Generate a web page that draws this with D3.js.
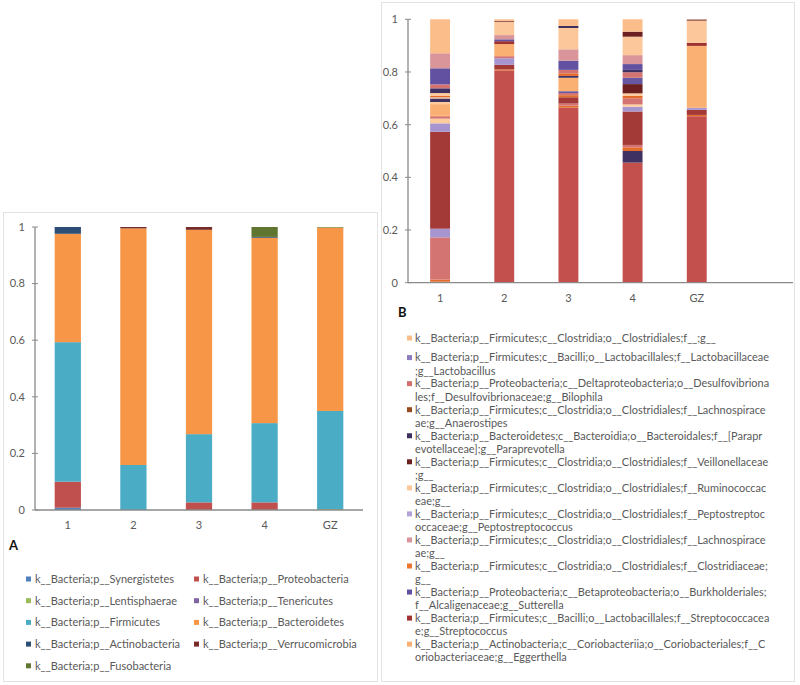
<!DOCTYPE html>
<html><head><meta charset="utf-8">
<script src="https://cdn.jsdelivr.net/npm/d3@7"></script>
<style>
body{margin:0;background:#fff}
text{font-family:Lato,"Liberation Sans",sans-serif}
</style>
</head><body>
<svg id="chart" width="800" height="685"></svg>
<script>
// ---------- shared ----------
const samples = ["1", "2", "3", "4", "GZ"];
const yTickValues = [0, 0.2, 0.4, 0.6, 0.8, 1];

// ---------- Panel A: phylum level (stack order bottom -> top = legend order) ----------
const phylaA = [
  "k__Bacteria;p__Synergistetes", "k__Bacteria;p__Proteobacteria",
  "k__Bacteria;p__Lentisphaerae", "k__Bacteria;p__Tenericutes",
  "k__Bacteria;p__Firmicutes", "k__Bacteria;p__Bacteroidetes",
  "k__Bacteria;p__Actinobacteria", "k__Bacteria;p__Verrucomicrobia",
  "k__Bacteria;p__Fusobacteria"
];
const phylaColors = ["#4F81BD", "#C0504D", "#9BBB59", "#8064A2", "#4BACC6", "#F79646", "#2C4D75", "#772C2A", "#5F7530"];
const phylaS1  = [0.008, 0.092, 0,     0, 0.493, 0.383, 0.024, 0,     0];
const phylaS2  = [0,     0,     0,     0, 0.159, 0.836, 0,     0.005, 0];
const phylaS3  = [0,     0.027, 0,     0, 0.241, 0.722, 0,     0.010, 0];
const phylaS4  = [0,     0.027, 0,     0, 0.280, 0.655, 0.003, 0,     0.035];
const phylaSGZ = [0,     0,     0.003, 0, 0.347, 0.648, 0,     0,     0.002];
const phylaValues = [phylaS1, phylaS2, phylaS3, phylaS4, phylaSGZ];

// ---------- Panel B: genus level ----------
// taxa without a legend entry (stack order bottom -> top)
const otherColorsB = ["#C4504E", "#3F3263", "#E46C2A", "#D47472", "#A795CF", "#A33A38", "#A795CF", "#FCCB9E",
  "#E46C2A", "#D47472", "#6756A0", "#E46C2A", "#FAB072", "#FCCB9E", "#6B1F1F", "#6756A0",
  "#3F3263", "#E8B896", "#E46C2A", "#FCCB9E", "#3F3263", "#D47472", "#3F3263"];
const otherB1  = [0.004, 0, 0.008, 0.160, 0.033, 0.368, 0.032, 0.018, 0, 0.008, 0, 0.003, 0.044, 0.008, 0, 0, 0.013, 0.006, 0.004, 0.011, 0.018, 0.015, 0];
const otherB2  = [0.806, 0, 0.004, 0, 0, 0.017, 0.025, 0, 0, 0.008, 0, 0, 0, 0, 0, 0, 0, 0, 0, 0, 0, 0, 0];
const otherB3  = [0.665, 0, 0.007, 0.008, 0, 0.024, 0, 0, 0.008, 0.008, 0.007, 0, 0.051, 0, 0, 0, 0.007, 0, 0.010, 0, 0, 0.013, 0];
const otherB4  = [0.456, 0.044, 0.014, 0.009, 0, 0.127, 0.018, 0.009, 0, 0.023, 0, 0.009, 0, 0.010, 0.035, 0.024, 0, 0, 0, 0, 0, 0.021, 0.009];
const otherBGZ = [0.632, 0, 0.005, 0, 0, 0.019, 0.008, 0, 0, 0, 0, 0, 0, 0, 0, 0, 0, 0, 0, 0, 0, 0, 0];

// legend taxa, listed top-down as in the legend (they sit on top of the stack, first one highest)
const generaB = [
  "k__Bacteria;p__Firmicutes;c__Clostridia;o__Clostridiales;f__;g__",
  "k__Bacteria;p__Firmicutes;c__Bacilli;o__Lactobacillales;f__Lactobacillaceae\n;g__Lactobacillus",
  "k__Bacteria;p__Proteobacteria;c__Deltaproteobacteria;o__Desulfovibriona\nles;f__Desulfovibrionaceae;g__Bilophila",
  "k__Bacteria;p__Firmicutes;c__Clostridia;o__Clostridiales;f__Lachnospirace\nae;g__Anaerostipes",
  "k__Bacteria;p__Bacteroidetes;c__Bacteroidia;o__Bacteroidales;f__[Parapr\nevotellaceae];g__Paraprevotella",
  "k__Bacteria;p__Firmicutes;c__Clostridia;o__Clostridiales;f__Veillonellaceae\n;g__",
  "k__Bacteria;p__Firmicutes;c__Clostridia;o__Clostridiales;f__Ruminococcac\neae;g__",
  "k__Bacteria;p__Firmicutes;c__Clostridia;o__Clostridiales;f__Peptostreptoc\noccaceae;g__Peptostreptococcus",
  "k__Bacteria;p__Firmicutes;c__Clostridia;o__Clostridiales;f__Lachnospirace\nae;g__",
  "k__Bacteria;p__Firmicutes;c__Clostridia;o__Clostridiales;f__Clostridiaceae;\ng__",
  "k__Bacteria;p__Proteobacteria;c__Betaproteobacteria;o__Burkholderiales;\nf__Alcaligenaceae;g__Sutterella",
  "k__Bacteria;p__Firmicutes;c__Bacilli;o__Lactobacillales;f__Streptococcacea\ne;g__Streptococcus",
  "k__Bacteria;p__Actinobacteria;c__Coriobacteriia;o__Coriobacteriales;f__C\noriobacteriaceae;g__Eggerthella"
];
const generaColors = ["#FBBD89", "#8E7CC3", "#D47070", "#984A1F", "#3D2E5E", "#6B1F1F", "#FCC79A",
  "#B3A2D8", "#D9959A", "#EE7530", "#6151A0", "#9E3331", "#FAB072"];
const generaB1  = [0.129, 0, 0, 0, 0,     0,     0,     0, 0.057, 0, 0.061, 0,     0];
const generaB2  = [0.006, 0, 0, 0, 0,     0.003, 0.051, 0, 0.016, 0, 0.007, 0.011, 0.046];
const generaB3  = [0.025, 0, 0, 0, 0.008, 0,     0.081, 0, 0.043, 0, 0.035, 0,     0];
const generaB4  = [0.047, 0, 0, 0, 0,     0.019, 0.070, 0, 0.034, 0, 0.022, 0,     0];
const generaBGZ = [0.001, 0, 0, 0, 0,     0.004, 0.084, 0, 0,     0, 0,     0.012, 0.235];

const otherValuesB = [otherB1, otherB2, otherB3, otherB4, otherBGZ];
const generaValuesB = [generaB1, generaB2, generaB3, generaB4, generaBGZ];

// ---------- drawing ----------
const svg = d3.select("#chart");
const axisColor = "#8a8a8a", labelColor = "#595959";

// panel frames
svg.append("rect").attr("x", 3.5).attr("y", 212.5).attr("width", 374).attr("height", 469)
  .attr("fill", "none").attr("stroke", "#e3e3e3");
svg.append("rect").attr("x", 381.5).attr("y", 2.5).attr("width", 413).attr("height", 679)
  .attr("fill", "none").attr("stroke", "#e3e3e3");

function drawStack(g, keys, colors, rows, x, y) {
  const stacked = d3.stack().keys(keys)(rows);
  g.selectAll("g.layer").data(stacked).join("g").attr("class", "layer")
    .attr("fill", (d, i) => colors[i])
    .selectAll("rect").data(d => d).join("rect")
    .attr("x", d => x(d.data.sample))
    .attr("width", x.bandwidth())
    .attr("y", d => y(d[1]))
    .attr("height", d => Math.max(0, y(d[0]) - y(d[1])));
}

function drawAxes(g, x, y, x0, x1) {
  g.append("line").attr("x1", x0).attr("x2", x0).attr("y1", y(1)).attr("y2", y(0))
    .attr("stroke", axisColor).attr("stroke-width", 1.3);
  g.append("line").attr("x1", x0).attr("x2", x1).attr("y1", y(0)).attr("y2", y(0))
    .attr("stroke", axisColor).attr("stroke-width", 1.3);
  yTickValues.forEach(v => {
    g.append("line").attr("x1", x0 - 3).attr("x2", x0 + 3).attr("y1", y(v)).attr("y2", y(v))
      .attr("stroke", axisColor).attr("stroke-width", 1);
    g.append("text").attr("x", x0 - 10).attr("y", y(v)).attr("dy", "0.35em")
      .attr("text-anchor", "end").attr("font-size", 11).attr("fill", labelColor)
      .text(d3.format("~g")(v));
  });
  samples.forEach(s => {
    g.append("text").attr("x", x(s) + x.bandwidth() / 2).attr("y", y(0) + 15).attr("dy", "0.35em")
      .attr("text-anchor", "middle").attr("font-size", 11).attr("fill", labelColor).text(s);
  });
}

// scale a group of texts so that its widest line has the given width
function fitFont(sel, targetWidth) {
  let maxW = 0;
  sel.each(function () {
    const el = this;
    const parts = el.tagName === "text" && el.childNodes.length && el.firstChild.tagName === "tspan"
      ? Array.from(el.childNodes) : [el];
    parts.forEach(p => { maxW = Math.max(maxW, p.getComputedTextLength()); });
  });
  const base = +sel.attr("font-size");
  sel.attr("font-size", base * targetWidth / maxW);
}

// ----- Panel A -----
{
  const g = svg.append("g");
  const x = d3.scaleBand().domain(samples).range([35, 363]).paddingInner(0.6).paddingOuter(0.3);
  const y = d3.scaleLinear().domain([0, 1]).range([510, 227]);
  const rows = samples.map((s, i) => {
    const r = {sample: s};
    phylaA.forEach((p, j) => r[p] = phylaValues[i][j]);
    return r;
  });
  drawStack(g, phylaA, phylaColors, rows, x, y);
  drawAxes(g, x, y, 35, 363);
  g.append("text").attr("x", 9).attr("y", 550).attr("font-size", 13).attr("font-weight", "bold")
    .attr("fill", "#111").text("A");
  // legend (two columns, row-major)
  const lg = g.append("g");
  phylaA.forEach((p, i) => {
    const col = i % 2, row = Math.floor(i / 2);
    const lx = 26 + col * 168, ly = 579 + row * 21.7;
    lg.append("rect").attr("x", lx).attr("y", ly - 2.5).attr("width", 5).attr("height", 5).attr("fill", phylaColors[i]);
    lg.append("text").attr("class", "legA").attr("x", lx + 9).attr("y", ly).attr("dy", "0.35em")
      .attr("font-size", 10).attr("fill", labelColor).text(p);
  });
  fitFont(lg.selectAll("text.legA"), 154);
}

// ----- Panel B -----
{
  const g = svg.append("g");
  const step = (793 - 408) / 6;
  const x = d3.scaleBand().domain(samples).range([408, 408 + 5 * step]).paddingInner(0.69).paddingOuter(0.345);
  const y = d3.scaleLinear().domain([0, 1]).range([282.7, 19.3]);
  const otherKeys = otherColorsB.map((c, i) => "other" + i);
  const legendKeysBottomUp = generaB.map((n, i) => "genus" + i).reverse();
  const keys = otherKeys.concat(legendKeysBottomUp);
  const colors = otherColorsB.concat(generaColors.slice().reverse());
  const rows = samples.map((s, i) => {
    const r = {sample: s};
    otherKeys.forEach((k, j) => r[k] = otherValuesB[i][j]);
    generaB.forEach((n, j) => r["genus" + j] = generaValuesB[i][j]);
    return r;
  });
  drawStack(g, keys, colors, rows, x, y);
  drawAxes(g, x, y, 408, 793);
  g.append("text").attr("x", 398).attr("y", 317).attr("font-size", 13).attr("font-weight", "bold")
    .attr("fill", "#111").text("B");
  // legend
  const slot = 26.05, top0 = 325.05;
  generaB.forEach((n, i) => {
    const lines = n.split("\n");
    const top = top0 + i * slot;
    const firstY = lines.length === 1 ? top + slot / 2 : top + 6.5;
    g.append("rect").attr("x", 407).attr("y", firstY - 2.5).attr("width", 5).attr("height", 5).attr("fill", generaColors[i]);
    const t = g.append("text").attr("class", "legB").attr("font-size", 10).attr("fill", labelColor);
    lines.forEach((l, k) => t.append("tspan").attr("x", 415).attr("y", firstY + k * 13.2).attr("dy", "0.35em").text(l));
  });
  fitFont(g.selectAll("text.legB"), 355);
}
</script>
</body></html>
